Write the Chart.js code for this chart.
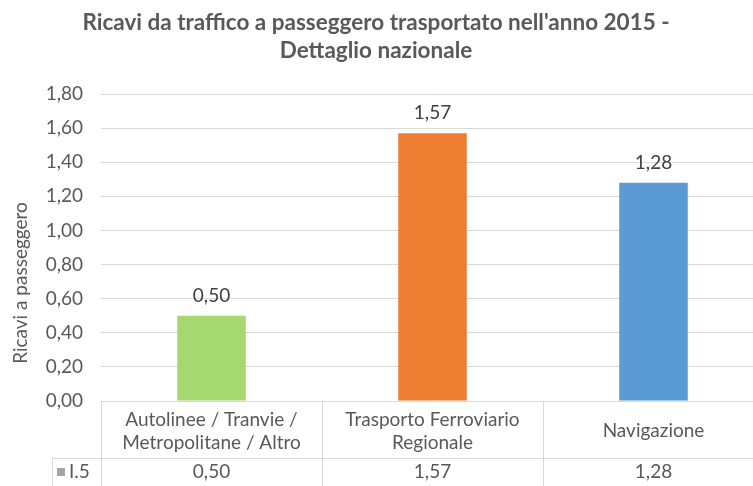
<!DOCTYPE html>
<html>
<head>
<meta charset="utf-8">
<script src="https://cdn.jsdelivr.net/npm/chart.js@4"></script>
<style>
  html,body{margin:0;padding:0;background:#fff;overflow:hidden;}
  #wrap{width:753px;height:486px;overflow:hidden;position:relative;}
  #box{width:775px;height:486px;}
</style>
</head>
<body>
<div id="wrap"><div id="box"><canvas id="grafico"></canvas></div></div>
<script>
// ─── DATI ────────────────────────────────────────────────────────────────────
const categorie = [
  ["Autolinee / Tranvie /", "Metropolitane / Altro"],
  ["Trasporto Ferroviario", "Regionale"],
  ["Navigazione"]
];
const valori     = [0.50, 1.57, 1.28];
const colori     = ["#a5d86e", "#ed7d31", "#5b9bd5"];
const serie      = "I.5";
const titolo     = ["Ricavi da traffico a passeggero trasportato nell'anno 2015 -", "Dettaglio nazionale"];
const titoloAsse = "Ricavi a passeggero";

const FONT   = "Lato, Calibri, sans-serif";
const GRIGIO = "#595959";
const LINEA  = "#d9d9d9";
const fmt = v => v.toFixed(2).replace(".", ",");

// titolo, titolo asse, etichette e tabella dati sotto il grafico
const decorazioni = {
  id: "decorazioni",
  afterDraw(chart){
    const ctx = chart.ctx;
    const area = chart.chartArea;
    const x = chart.scales.x;
    const n = valori.length;
    const larg = (area.right - area.left) / n;

    ctx.save();
    // titolo
    ctx.fillStyle = GRIGIO;
    ctx.textAlign = "center";
    ctx.textBaseline = "middle";
    ctx.font = `bold 22.5px ${FONT}`;
    ctx.fillText(titolo[0], 376, 23);
    ctx.fillText(titolo[1], 376, 51);

    // titolo asse y
    ctx.save();
    ctx.translate(21, 283);
    ctx.rotate(-Math.PI / 2);
    ctx.font = `19px ${FONT}`;
    ctx.fillText(titoloAsse, 0, 0);
    ctx.restore();

    // etichette sopra le barre
    ctx.fillStyle = "#404040";
    ctx.font = `19px ${FONT}`;
    chart.getDatasetMeta(0).data.forEach((bar, i) => {
      ctx.fillText(fmt(valori[i]), bar.x, bar.y - 20);
    });

    // tabella dati
    const yTop = area.bottom, yMid = 458, yBot = 486, xLeg = 52;
    ctx.strokeStyle = LINEA;
    ctx.lineWidth = 1;
    ctx.beginPath();
    ctx.moveTo(area.left, yTop + 0.5); ctx.lineTo(area.right, yTop + 0.5);
    ctx.moveTo(xLeg, yMid + 0.5);      ctx.lineTo(area.right, yMid + 0.5);
    ctx.moveTo(xLeg + 0.5, yMid);      ctx.lineTo(xLeg + 0.5, yBot);
    for(let i = 0; i <= n; i++){
      const bx = Math.round(area.left + i * larg) + 0.5;
      ctx.moveTo(bx, yTop); ctx.lineTo(bx, yBot);
    }
    ctx.stroke();

    ctx.fillStyle = GRIGIO;
    ctx.font = `19px ${FONT}`;
    categorie.forEach((righe, i) => {
      const cx = x.getPixelForValue(i);
      const yc = 431;
      righe.forEach((r, k) => {
        ctx.fillText(r, cx, yc + (k - (righe.length - 1) / 2) * 23);
      });
      ctx.fillText(fmt(valori[i]), cx, (yMid + yBot) / 2);
    });

    // legenda della riga
    ctx.fillStyle = "#a5a5a5";
    ctx.fillRect(57, 468, 8, 8);
    ctx.fillStyle = GRIGIO;
    ctx.textAlign = "left";
    ctx.fillText(serie, 69, 472);
    ctx.restore();
  }
};

new Chart(document.getElementById("grafico"), {
  type: "bar",
  data: {
    labels: categorie,
    datasets: [{
      label: serie,
      data: valori,
      backgroundColor: colori,
      borderWidth: 0,
      categoryPercentage: 1,
      barPercentage: 0.31
    }]
  },
  options: {
    responsive: true, maintainAspectRatio: false,
    animation: false,
    layout: { padding: { top: 94, bottom: 85, left: 0, right: 11 } },
    plugins: { legend: { display: false }, tooltip: { enabled: false }, title: { display: false } },
    scales: {
      x: { display: false },
      y: {
        min: 0, max: 1.8,
        afterFit: s => { s.width = 101; },
        border: { display: false },
        grid: { color: LINEA, lineWidth: 1, drawTicks: false },
        ticks: {
          stepSize: 0.2, padding: 18, color: GRIGIO,
          font: { family: FONT, size: 19 },
          callback: v => fmt(v)
        }
      }
    }
  },
  plugins: [decorazioni]
});
</script>
</body>
</html>
